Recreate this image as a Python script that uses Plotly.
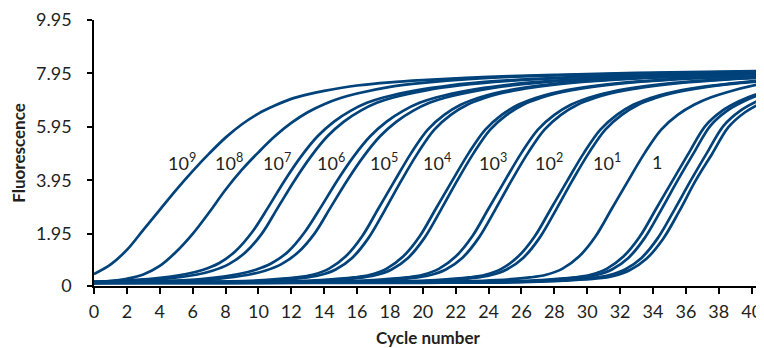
import plotly.graph_objects as go

# ---- data ----
x_e9 = [0, 1, 2, 3, 4, 5, 6, 7, 8, 9, 10, 11, 12, 13, 14, 16, 18, 20, 24, 28, 33, 41]
y_e9 = [0.45, 0.8, 1.35, 2.1, 2.85, 3.6, 4.3, 4.95, 5.55, 6.05, 6.45, 6.75, 7.0, 7.17, 7.3, 7.5, 7.62, 7.7, 7.82, 7.9, 7.97, 8.05]

x_e8 = [0, 1, 2, 3, 4, 5, 6, 7, 8, 9, 10, 11, 12, 13, 14, 15, 16, 18, 20, 23, 27, 32, 41]
y_e8 = [0.15, 0.18, 0.27, 0.43, 0.75, 1.28, 1.95, 2.75, 3.6, 4.35, 5.0, 5.6, 6.1, 6.5, 6.8, 7.03, 7.2, 7.45, 7.6, 7.75, 7.86, 7.94, 8.03]

x_e7a = [0, 1.6, 3.6, 5.6, 6.6, 7.6, 8.6, 9.6, 10.6, 11.6, 12.6, 13.6, 14.6, 15.6, 16.6, 17.6, 19.6, 21.6, 24.6, 28.6, 33.6, 39.6, 41]
y_e7a = [0.15, 0.2, 0.28, 0.45, 0.6, 0.85, 1.3, 2.0, 2.95, 3.95, 4.85, 5.6, 6.15, 6.55, 6.85, 7.05, 7.32, 7.5, 7.67, 7.8, 7.88, 7.95, 7.97]
x_e7b = [0, 2.2, 4.2, 6.2, 7.2, 8.2, 9.2, 10.2, 11.2, 12.2, 13.2, 14.2, 15.2, 16.2, 17.2, 18.2, 20.2, 22.2, 25.2, 29.2, 34.2, 40.2, 41]
y_e7b = [0.12, 0.18, 0.26, 0.42, 0.57, 0.82, 1.25, 1.95, 2.95, 3.95, 4.85, 5.6, 6.15, 6.55, 6.85, 7.05, 7.32, 7.5, 7.67, 7.8, 7.88, 7.95, 7.96]

x_e6a = [0, 4.8, 6.8, 8.8, 9.8, 10.8, 11.8, 12.8, 13.8, 14.8, 15.8, 16.8, 17.8, 18.8, 19.8, 20.8, 22.8, 24.8, 27.8, 31.8, 36.8, 41]
y_e6a = [0.15, 0.2, 0.28, 0.45, 0.6, 0.85, 1.28, 2.0, 2.95, 3.95, 4.85, 5.6, 6.15, 6.55, 6.85, 7.05, 7.32, 7.5, 7.67, 7.8, 7.88, 7.93]
x_e6b = [0, 5.4, 7.4, 9.4, 10.4, 11.4, 12.4, 13.4, 14.4, 15.4, 16.4, 17.4, 18.4, 19.4, 20.4, 21.4, 23.4, 25.4, 28.4, 32.4, 37.4, 41]
y_e6b = [0.12, 0.18, 0.26, 0.42, 0.57, 0.82, 1.25, 1.95, 2.95, 3.95, 4.85, 5.6, 6.15, 6.55, 6.85, 7.05, 7.32, 7.5, 7.67, 7.8, 7.88, 7.92]

x_e5a = [0, 8.3, 10.3, 12.3, 13.3, 14.3, 15.3, 16.3, 17.3, 18.3, 19.3, 20.3, 21.3, 22.3, 23.3, 24.3, 26.3, 28.3, 31.3, 35.3, 41]
y_e5a = [0.15, 0.17, 0.22, 0.32, 0.42, 0.65, 1.1, 1.85, 2.9, 3.95, 4.98, 5.85, 6.4, 6.78, 7.02, 7.2, 7.43, 7.58, 7.72, 7.83, 7.92]
x_e5b = [0, 8.7, 10.7, 12.7, 13.7, 14.7, 15.7, 16.7, 17.7, 18.7, 19.7, 20.7, 21.7, 22.7, 23.7, 24.7, 26.7, 28.7, 31.7, 35.7, 41]
y_e5b = [0.12, 0.15, 0.2, 0.3, 0.4, 0.62, 1.05, 1.8, 2.85, 3.95, 4.98, 5.85, 6.4, 6.78, 7.02, 7.2, 7.43, 7.58, 7.72, 7.83, 7.9]

x_e4a = [0, 6, 11.8, 13.8, 15.8, 16.8, 17.8, 18.8, 19.8, 20.8, 21.8, 22.8, 23.8, 24.8, 25.8, 26.8, 27.8, 29.8, 31.8, 34.8, 38.8, 41]
y_e4a = [0.15, 0.15, 0.17, 0.22, 0.32, 0.42, 0.65, 1.1, 1.85, 2.9, 3.95, 4.98, 5.85, 6.4, 6.78, 7.02, 7.2, 7.43, 7.58, 7.72, 7.83, 7.87]
x_e4b = [0, 6, 12.1, 14.1, 16.1, 17.1, 18.1, 19.1, 20.1, 21.1, 22.1, 23.1, 24.1, 25.1, 26.1, 27.1, 28.1, 30.1, 32.1, 35.1, 39.1, 41]
y_e4b = [0.12, 0.13, 0.15, 0.2, 0.3, 0.4, 0.62, 1.05, 1.8, 2.85, 3.95, 4.98, 5.85, 6.4, 6.78, 7.02, 7.2, 7.43, 7.58, 7.72, 7.83, 7.86]

x_e3a = [0, 8, 15, 17, 19, 20, 21, 22, 23, 24, 25, 26, 27, 28, 29, 30, 31, 33, 35, 38, 41]
y_e3a = [0.15, 0.15, 0.17, 0.22, 0.32, 0.42, 0.65, 1.1, 1.85, 2.9, 3.95, 4.98, 5.85, 6.4, 6.78, 7.02, 7.2, 7.43, 7.58, 7.72, 7.82]
x_e3b = [0, 8, 15.4, 17.4, 19.4, 20.4, 21.4, 22.4, 23.4, 24.4, 25.4, 26.4, 27.4, 28.4, 29.4, 30.4, 31.4, 33.4, 35.4, 38.4, 41]
y_e3b = [0.12, 0.12, 0.15, 0.2, 0.3, 0.4, 0.62, 1.05, 1.8, 2.85, 3.95, 4.98, 5.85, 6.4, 6.78, 7.02, 7.2, 7.43, 7.58, 7.72, 7.8]

x_e2a = [0, 10, 18.8, 20.8, 22.8, 23.8, 24.8, 25.8, 26.8, 27.8, 28.8, 29.8, 30.8, 31.8, 32.8, 33.8, 34.8, 36.8, 38.8, 41]
y_e2a = [0.15, 0.15, 0.17, 0.22, 0.32, 0.42, 0.65, 1.1, 1.85, 2.9, 3.95, 4.98, 5.85, 6.4, 6.78, 7.02, 7.2, 7.43, 7.58, 7.72]
x_e2b = [0, 10, 19.1, 21.1, 23.1, 24.1, 25.1, 26.1, 27.1, 28.1, 29.1, 30.1, 31.1, 32.1, 33.1, 34.1, 35.1, 37.1, 39.1, 41]
y_e2b = [0.12, 0.12, 0.15, 0.2, 0.3, 0.4, 0.62, 1.05, 1.8, 2.85, 3.95, 4.98, 5.85, 6.4, 6.78, 7.02, 7.2, 7.43, 7.58, 7.68]

x_e1 = [0, 10, 20, 22.5, 24.5, 26.5, 27.5, 28.5, 29.5, 30.5, 31.5, 32.5, 33.5, 34.5, 35.5, 36.5, 37.5, 38.5, 40.5, 41.5]
y_e1 = [0.13, 0.13, 0.14, 0.17, 0.22, 0.32, 0.42, 0.65, 1.1, 1.85, 2.9, 3.95, 4.98, 5.85, 6.4, 6.78, 7.05, 7.25, 7.55, 7.65]

x_e0a = [0, 10, 20, 25.2, 27.2, 29.2, 30.2, 31.2, 32.2, 33.2, 34.2, 35.2, 36.2, 37.2, 38.2, 39.2, 40.2, 41.2]
y_e0a = [0.15, 0.15, 0.15, 0.17, 0.22, 0.32, 0.42, 0.65, 1.1, 1.85, 2.9, 3.95, 5.0, 6.0, 6.55, 6.9, 7.15, 7.3]
x_e0b = [0, 10, 20, 25.5, 27.5, 29.5, 30.5, 31.5, 32.5, 33.5, 34.5, 35.5, 36.5, 37.5, 38.5, 39.5, 40.5, 41.5]
y_e0b = [0.12, 0.12, 0.13, 0.15, 0.2, 0.3, 0.4, 0.62, 1.05, 1.8, 2.85, 3.95, 5.0, 6.0, 6.55, 6.9, 7.15, 7.3]
x_e0c = [0, 10, 20, 26.3, 28.3, 30.3, 31.3, 32.3, 33.3, 34.3, 35.3, 36.3, 37.3, 38.3, 39.3, 40.3, 41.3]
y_e0c = [0.14, 0.14, 0.14, 0.16, 0.21, 0.3, 0.4, 0.62, 1.05, 1.8, 2.85, 3.95, 5.0, 6.0, 6.55, 6.9, 7.15]
x_e0d = [0, 10, 20, 26.6, 28.6, 30.6, 31.6, 32.6, 33.6, 34.6, 35.6, 36.6, 37.6, 38.6, 39.6, 40.6, 41.6]
y_e0d = [0.12, 0.12, 0.12, 0.15, 0.2, 0.28, 0.38, 0.6, 1.02, 1.75, 2.8, 3.95, 4.95, 5.95, 6.5, 6.85, 7.1]

label_texts = ["10<sup>9</sup>", "10<sup>8</sup>", "10<sup>7</sup>", "10<sup>6</sup>", "10<sup>5</sup>",
               "10<sup>4</sup>", "10<sup>3</sup>", "10<sup>2</sup>", "10<sup>1</sup>", "1"]
label_x = [5.35, 8.2, 11.1, 14.4, 17.65, 20.85, 24.25, 27.65, 31.2, 34.25]
label_y = 4.65

y_ticks = [0, 1.95, 3.95, 5.95, 7.95, 9.95]
y_tick_text = ["0", "1.95", "3.95", "5.95", "7.95", "9.95"]
x_ticks = list(range(0, 41, 2))

curves = [
    (x_e9, y_e9), (x_e8, y_e8), (x_e7a, y_e7a), (x_e7b, y_e7b),
    (x_e6a, y_e6a), (x_e6b, y_e6b), (x_e5a, y_e5a), (x_e5b, y_e5b),
    (x_e4a, y_e4a), (x_e4b, y_e4b), (x_e3a, y_e3a), (x_e3b, y_e3b),
    (x_e2a, y_e2a), (x_e2b, y_e2b), (x_e1, y_e1),
    (x_e0a, y_e0a), (x_e0b, y_e0b), (x_e0c, y_e0c), (x_e0d, y_e0d),
]

LINE_COLOR = "#00427a"
FONT = "Lato, 'Open Sans', sans-serif"
TXT = "#231f20"

fig = go.Figure()
for xs, ys in curves:
    fig.add_trace(go.Scatter(x=xs, y=ys, mode="lines",
                             line=dict(color=LINE_COLOR, width=2.7, shape="spline", smoothing=1.0),
                             hoverinfo="skip", showlegend=False))

for t, lx in zip(label_texts, label_x):
    fig.add_annotation(x=lx, y=label_y, text=t, showarrow=False,
                       font=dict(family=FONT, size=18, color=TXT), xanchor="center", yanchor="middle")

# the page body has an 8px default margin, so the figure is sized/offset to compensate
fig.update_layout(
    width=756, height=340,
    margin=dict(l=86, r=2, t=12, b=62),
    plot_bgcolor="white", paper_bgcolor="white",
    font=dict(family=FONT, size=18, color=TXT),
    showlegend=False,
    xaxis=dict(range=[0, 40.63], tickvals=x_ticks, ticks="outside", ticklen=6, tickwidth=1.5,
               tickcolor="black", showline=True, linecolor="black", linewidth=1.5,
               showgrid=False, zeroline=False, ticklabelstandoff=3, automargin=False,
               tickfont=dict(family=FONT, size=18, color=TXT),
               title=dict(text="<b>Cycle number</b>", font=dict(family=FONT, size=17, color=TXT), standoff=19)),
    yaxis=dict(range=[0, 9.95], tickvals=y_ticks, ticktext=y_tick_text, ticks="outside", ticklen=5,
               tickwidth=1.5, tickcolor="black", showline=True, linecolor="black", linewidth=1.5,
               showgrid=False, zeroline=False, ticklabelstandoff=12, automargin=False,
               tickfont=dict(family=FONT, size=18, color=TXT),
               title=dict(text="<b>Fluorescence</b>", font=dict(family=FONT, size=17, color=TXT), standoff=7)),
)

fig.write_html("out.html")
